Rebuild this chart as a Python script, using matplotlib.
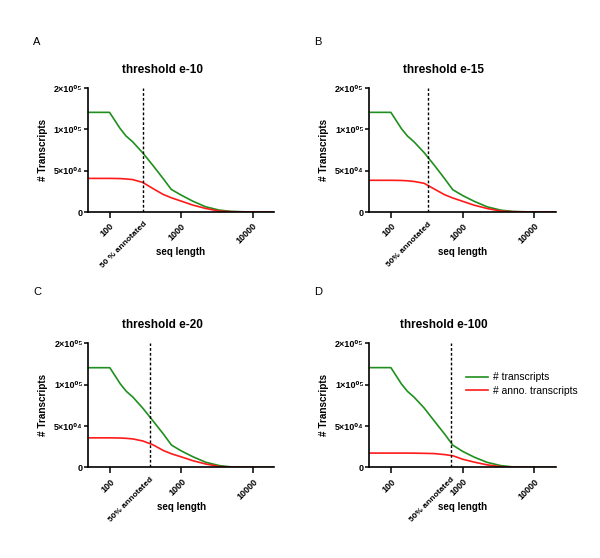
import matplotlib
matplotlib.use('Agg')
import matplotlib.pyplot as plt
from matplotlib.ticker import NullLocator, FixedLocator

plt.rcParams['font.family'] = ['Liberation Sans', 'DejaVu Sans']

# seq length grid
seq_len = [50, 100, 140, 170, 210, 290, 400, 560, 730, 1000, 1450, 2200, 3400, 5000, 10000, 20000]

# number of transcripts / annotated transcripts per threshold
transcripts_e10 = [120600, 120600, 101300, 92000, 85100, 71800, 56900, 40700, 27400, 20600, 13300, 6400, 2400, 800, 0, 0]
anno_e10 = [40700, 40700, 40500, 40000, 39300, 35900, 28700, 21400, 17300, 13300, 8500, 4400, 1200, 400, 0, 0]

transcripts_e15 = [120600, 120600, 101000, 92000, 85000, 72000, 57000, 40500, 27000, 20000, 13000, 6300, 2300, 700, 0, 0]
anno_e15 = [38400, 38400, 38200, 37800, 37000, 34800, 28000, 21000, 17000, 13000, 8300, 4300, 1200, 400, 0, 0]

transcripts_e20 = [120500, 120500, 101000, 92000, 85000, 71500, 56500, 40500, 27000, 20000, 13000, 6300, 2300, 700, 0, 0]
anno_e20 = [35800, 35800, 35600, 35200, 34500, 32000, 27500, 20500, 16500, 12800, 8200, 4200, 1200, 400, 0, 0]

transcripts_e100 = [120600, 120600, 101000, 92000, 85000, 72000, 56500, 40500, 27000, 19500, 12500, 6200, 2300, 700, 0, 0]
anno_e100 = [17400, 17400, 17400, 17400, 17300, 17100, 16800, 15600, 14200, 10000, 6500, 3200, 1000, 300, 0, 0]

titles = ['threshold e-10', 'threshold e-15', 'threshold e-20', 'threshold e-100']
letters = ['A', 'B', 'C', 'D']
cut_pos = [295, 325, 363, 680]
cut_labels = ['50 % annotated', '50% annotated', '50% annotated', '50% annotated']

x_ticks = [100, 1000, 10000]
x_ticklabels = ['100', '1000', '10000']
y_ticks = [0, 50000, 100000, 150000]
y_ticklabels = ['0', '5×10⁰⁴', '1×10⁰⁵', '2×10⁰⁵']

GREEN = '#1f8f1f'
RED = '#ff1a1a'


def draw_panel(ax, green, red, title, cut, cut_label, legend=False):
    ax.plot(seq_len, green, color=GREEN, lw=1.2, label='# transcripts')
    ax.plot(seq_len, red, color=RED, lw=1.2, label='# anno. transcripts')
    ax.axvline(cut, color='black', lw=1.0, ls=(0, (2, 1.5)))

    ax.set_xscale('log')
    ax.set_xlim(50, 20000)
    ax.set_ylim(0, 150000)
    ax.xaxis.set_major_locator(FixedLocator(x_ticks))
    ax.xaxis.set_minor_locator(NullLocator())
    ax.set_xticklabels(x_ticklabels, fontsize=6.5, fontweight='bold',
                       rotation=45, ha='right', rotation_mode='anchor')
    ax.set_yticks(y_ticks)
    ax.set_yticklabels(y_ticklabels, fontsize=6.5, fontweight='bold')

    for s in ['top', 'right']:
        ax.spines[s].set_visible(False)
    for s in ['left', 'bottom']:
        ax.spines[s].set_linewidth(1.2)
    ax.tick_params(axis='x', direction='out', length=4, width=1.1, pad=3)
    ax.tick_params(axis='y', direction='out', length=3, width=1.1, pad=1)

    # label under the cut-off line
    ax.text(cut, -0.07, cut_label, transform=ax.get_xaxis_transform(),
            rotation=45, ha='right', va='top', rotation_mode='anchor',
            fontsize=6, fontweight='bold')

    ax.text(0.40, 1.145, title, transform=ax.transAxes, ha='center', va='center',
            fontsize=8.5, fontweight='bold')
    ax.text(-0.242, 0.5, '# Transcripts', transform=ax.transAxes, rotation=90,
            ha='center', va='center', fontsize=7.2, fontweight='bold')
    ax.text(0.5, -0.32, 'seq length', transform=ax.transAxes, ha='center',
            va='center', fontsize=7, fontweight='bold')

    if legend:
        ax.legend(loc='center left', bbox_to_anchor=(0.49, 0.67), frameon=False,
                  fontsize=7.4, handlelength=2.2, handletextpad=0.4,
                  labelspacing=0.35, borderpad=0)


fig = plt.figure(figsize=(6, 5.58), dpi=100)

positions = [[0.1467, 0.620, 0.310, 0.2222],
             [0.6155, 0.620, 0.311, 0.2222],
             [0.1472, 0.1622, 0.310, 0.2226],
             [0.6155, 0.1622, 0.311, 0.2226]]
greens = [transcripts_e10, transcripts_e15, transcripts_e20, transcripts_e100]
reds = [anno_e10, anno_e15, anno_e20, anno_e100]
letter_xy = [(37, 42), (318, 42), (37, 292), (318, 292)]

for i in range(4):
    ax = fig.add_axes(positions[i])
    draw_panel(ax, greens[i], reds[i], titles[i], cut_pos[i], cut_labels[i],
               legend=(i == 3))
    fig.text(letter_xy[i][0] / 600, 1 - letter_xy[i][1] / 558, letters[i],
             ha='center', va='center', fontsize=8)

fig.savefig('out.png', dpi=100, facecolor='white')
